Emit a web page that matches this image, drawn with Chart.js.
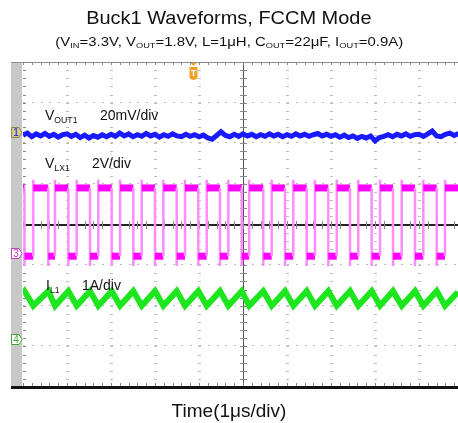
<!DOCTYPE html>
<html lang="en">
<head>
<meta charset="UTF-8">
<title>Buck1 Waveforms, FCCM Mode</title>
<script src="https://cdn.jsdelivr.net/npm/chart.js"></script>
<style>
  body { margin: 0; background: #fff; font-family: Arial, "Liberation Sans", sans-serif; }
  #wrap { position: relative; width: 458px; height: 423px; overflow: hidden; }
  #scope { position: absolute; left: 0; top: 0; }
  .t { position: absolute; white-space: nowrap; color: #111; line-height: 1; }
  .row { left: 0; width: 458px; text-align: center; }
  .row span { display: inline-block; }
  .title { top: 8px; font-size: 19px; }
  .title span { transform: scaleX(1.05); }
  .sub { top: 35px; font-size: 13px; }
  .sub span { transform: scaleX(1.15); }
  .t sub { font-size: 0.62em; vertical-align: baseline; position: relative; top: 0.3em; }
  .lbl { font-size: 14px; }
  .xt { top: 401px; font-size: 19px; }
</style>
</head>
<body>
<div id="wrap">
  <canvas id="scope" width="458" height="423"></canvas>
  <div class="t row title"><span>Buck1 Waveforms, FCCM Mode</span></div>
  <div class="t row sub"><span>(V<sub>IN</sub>=3.3V, V<sub>OUT</sub>=1.8V, L=1μH, C<sub>OUT</sub>=22μF, I<sub>OUT</sub>=0.9A)</span></div>
  <div class="t lbl" style="left:45px; top:108px;">V<sub>OUT1</sub></div>
  <div class="t lbl" style="left:100px; top:108px;">20mV/div</div>
  <div class="t lbl" style="left:45px; top:156px;">V<sub>LX1</sub></div>
  <div class="t lbl" style="left:92px; top:156px;">2V/div</div>
  <div class="t lbl" style="left:46px; top:278px;">I<sub>L1</sub></div>
  <div class="t lbl" style="left:82px; top:278px;">1A/div</div>
  <div class="t row xt"><span>Time(1μs/div)</span></div>
</div>
<script>
// time axis in µs (1 div = 1 µs), vertical axis in screen divisions (-4..4)
const timeSpan = [0, 9.886];

// VOUT1 (ch1), sampled every 0.1 µs, in divisions
const voutStep = 0.1;
const voutDiv = [
  2.20, 2.25, 2.16, 2.23, 2.18, 2.24, 2.17, 2.22, 2.15, 2.21,
  2.23, 2.17, 2.22, 2.14, 2.20, 2.13, 2.19, 2.15, 2.21, 2.16,
  2.22, 2.17, 2.25, 2.18, 2.23, 2.16, 2.21, 2.17, 2.24, 2.18,
  2.22, 2.15, 2.21, 2.17, 2.23, 2.18, 2.16, 2.22, 2.17, 2.21,
  2.16, 2.20, 2.13, 2.10, 2.19, 2.28, 2.19, 2.16, 2.22, 2.17,
  2.23, 2.18, 2.22, 2.16, 2.21, 2.17, 2.23, 2.18, 2.22, 2.16,
  2.21, 2.17, 2.23, 2.18, 2.22, 2.17, 2.21, 2.24, 2.18, 2.22,
  2.17, 2.21, 2.15, 2.20, 2.14, 2.18, 2.12, 2.17, 2.13, 2.18,
  2.06, 2.14, 2.17, 2.21, 2.16, 2.22, 2.18, 2.23, 2.17, 2.21,
  2.22, 2.17, 2.23, 2.30, 2.18, 2.16, 2.22, 2.25, 2.19, 2.24
];

// VLX1 (ch3) switching edges, µs
const lxRise = [0.234, 0.727, 1.220, 1.711, 2.205, 2.698, 3.189, 3.682, 4.175, 4.666,
                5.140, 5.652, 6.143, 6.636, 7.130, 7.620, 8.114, 8.607, 9.098, 9.591];
const lxFall = [0.034, 0.575, 1.030, 1.523, 2.016, 2.507, 3.000, 3.493, 3.984, 4.477,
                4.970, 5.461, 5.955, 6.448, 6.939, 7.432, 7.925, 8.409, 8.909, 9.402];
// VLX1 levels in divisions: [low, high, ring below, ring above]
const lxLevels = [-0.78, 0.90, -1.02, 1.10];

// IL1 (ch4) levels in divisions: [valley, peak], plus the trace ends
const ilLevels = [-2.00, -1.64];
const ilEnds = [-1.68, -1.66];

// channel ground markers (ch1, ch3, ch4) and trigger position
const chNames = ['1', '3', '4'];
const chGround = [2.28, -0.70, -2.82];
const trigTime = 3.86;

const voutPts = voutDiv.map((v, i) => ({x: +(i * voutStep).toFixed(2), y: v}));

const lxPts = [{x: timeSpan[0], y: lxLevels[1]}];
lxFall.forEach((f, i) => {
  lxPts.push({x: f, y: lxLevels[1]}, {x: f, y: lxLevels[2]}, {x: f, y: lxLevels[0]});
  lxPts.push({x: lxRise[i], y: lxLevels[0]}, {x: lxRise[i], y: lxLevels[3]}, {x: lxRise[i], y: lxLevels[1]});
});
lxPts.push({x: timeSpan[1], y: lxLevels[1]});

const ilPts = [{x: timeSpan[0], y: ilEnds[0]}];
lxFall.forEach((f, i) => {
  ilPts.push({x: f, y: ilLevels[1]}, {x: lxRise[i], y: ilLevels[0]});
});
ilPts.push({x: timeSpan[1], y: ilEnds[1]});

const isEdge = c => c.p0.parsed.x === c.p1.parsed.x;

const scopeGrid = {
  id: 'scopeGrid',
  beforeDatasetsDraw(chart) {
    const {ctx, chartArea: a, scales: {x, y}} = chart;
    const X = v => Math.round(x.getPixelForValue(v));
    const Y = v => Math.round(y.getPixelForValue(v));
    ctx.save();
    // grey strip on the left
    ctx.fillStyle = '#c8c8c8';
    ctx.fillRect(a.left - 12, a.top, 11, a.bottom - a.top);
    // dotted division lines
    ctx.fillStyle = '#bdbdbd';
    for (let i = 1; i < 10; i++) {
      if (i === 5) continue;
      for (let k = 0; k <= 40; k++) ctx.fillRect(X(i) - 1, Y(-4 + k * 0.2), 3, 1);
    }
    for (let j = -3; j <= 3; j++) {
      if (j === 0) continue;
      for (let k = 0; k <= 50; k++) ctx.fillRect(X(k * 0.2), Y(j) - 1, 2, 1);
    }
    // centre cross
    const cx = X(5), cy = Y(0);
    ctx.fillStyle = '#555';
    ctx.fillRect(cx, a.top, 1, a.bottom - a.top);
    ctx.fillStyle = '#222';
    ctx.fillRect(a.left, cy - 1, a.right - a.left, 2);
    // minor ticks on centre lines and edges
    ctx.fillStyle = '#888';
    for (let k = 0; k <= 50; k++) {
      const px = X(k * 0.2);
      ctx.fillRect(px, cy - 4, 1, 8);
      ctx.fillRect(px, a.top, 1, 3);
      ctx.fillRect(px, a.bottom - 4, 1, 3);
    }
    for (let k = 0; k <= 40; k++) {
      const py = Y(-4 + k * 0.2);
      ctx.fillRect(cx - 3, py, 7, 1);
      ctx.fillRect(a.left, py, 3, 1);
    }
    // borders
    ctx.fillStyle = '#8c8c8c';
    ctx.fillRect(a.left - 12, a.top, a.right - a.left + 12, 1);
    ctx.fillStyle = '#111';
    ctx.fillRect(a.left - 12, a.bottom - 1, a.right - a.left + 12, 3);
    ctx.restore();
  },
  afterDatasetsDraw(chart) {
    const {ctx, chartArea: a, scales: {x, y}} = chart;
    const styles = [
      {fill: '#d2c892', line: '#8f8450', text: '#1010e0'},
      {fill: '#ffffff', line: '#c040c0', text: '#c040c0'},
      {fill: '#ffffff', line: '#3aa83a', text: '#3aa83a'}
    ];
    ctx.save();
    ctx.font = '10px Arial, "Liberation Sans", sans-serif';
    ctx.textAlign = 'center';
    ctx.textBaseline = 'middle';
    chGround.forEach((g, i) => {
      const py = Math.round(y.getPixelForValue(g)) + 0.5;
      const l = a.left - 12 + 0.5, r = a.left - 1;
      ctx.beginPath();
      ctx.moveTo(l, py - 5);
      ctx.lineTo(r - 3, py - 5);
      ctx.lineTo(r, py);
      ctx.lineTo(r - 3, py + 5);
      ctx.lineTo(l, py + 5);
      ctx.closePath();
      ctx.fillStyle = styles[i].fill;
      ctx.fill();
      ctx.strokeStyle = styles[i].line;
      ctx.lineWidth = 1;
      ctx.stroke();
      ctx.fillStyle = styles[i].text;
      ctx.fillText(chNames[i], l + 4.5, py + 0.5);
    });
    // trigger tag
    const tx = Math.round(x.getPixelForValue(trigTime)) + 0.5;
    ctx.fillStyle = '#f0a028';
    ctx.beginPath();
    ctx.moveTo(tx - 3, a.top + 1);
    ctx.lineTo(tx + 3, a.top + 1);
    ctx.lineTo(tx, a.top + 4);
    ctx.closePath();
    ctx.fill();
    ctx.beginPath();
    ctx.moveTo(tx - 4, a.top + 5);
    ctx.lineTo(tx + 4, a.top + 5);
    ctx.lineTo(tx + 4, a.top + 16);
    ctx.quadraticCurveTo(tx, a.top + 20, tx - 4, a.top + 16);
    ctx.closePath();
    ctx.fill();
    ctx.fillStyle = '#fff';
    ctx.font = 'bold 9px Arial, "Liberation Sans", sans-serif';
    ctx.fillText('T', tx, a.top + 12);
    ctx.restore();
  }
};

new Chart(document.getElementById('scope'), {
  type: 'line',
  data: {
    datasets: [
      {
        label: 'VOUT1',
        data: voutPts,
        borderColor: '#1a1aff',
        borderWidth: 5
      },
      {
        label: 'VLX1',
        data: lxPts,
        borderColor: '#ff00ff',
        borderWidth: 7,
        segment: {
          borderColor: c => isEdge(c) ? '#ff8cff' : undefined,
          borderWidth: c => isEdge(c) ? 2.5 : undefined
        }
      },
      {
        label: 'IL1',
        data: ilPts,
        borderColor: '#1ee61e',
        borderWidth: 6
      }
    ]
  },
  options: {
    responsive: false,
    animation: false,
    layout: {padding: {left: 23, top: 62, right: 0, bottom: 36}},
    plugins: {legend: {display: false}, tooltip: {enabled: false}},
    elements: {point: {radius: 0}, line: {tension: 0, borderJoinStyle: 'miter'}},
    scales: {
      x: {type: 'linear', min: timeSpan[0], max: timeSpan[1], display: false},
      y: {min: -4, max: 4, display: false}
    }
  },
  plugins: [scopeGrid]
});
</script>
</body>
</html>
